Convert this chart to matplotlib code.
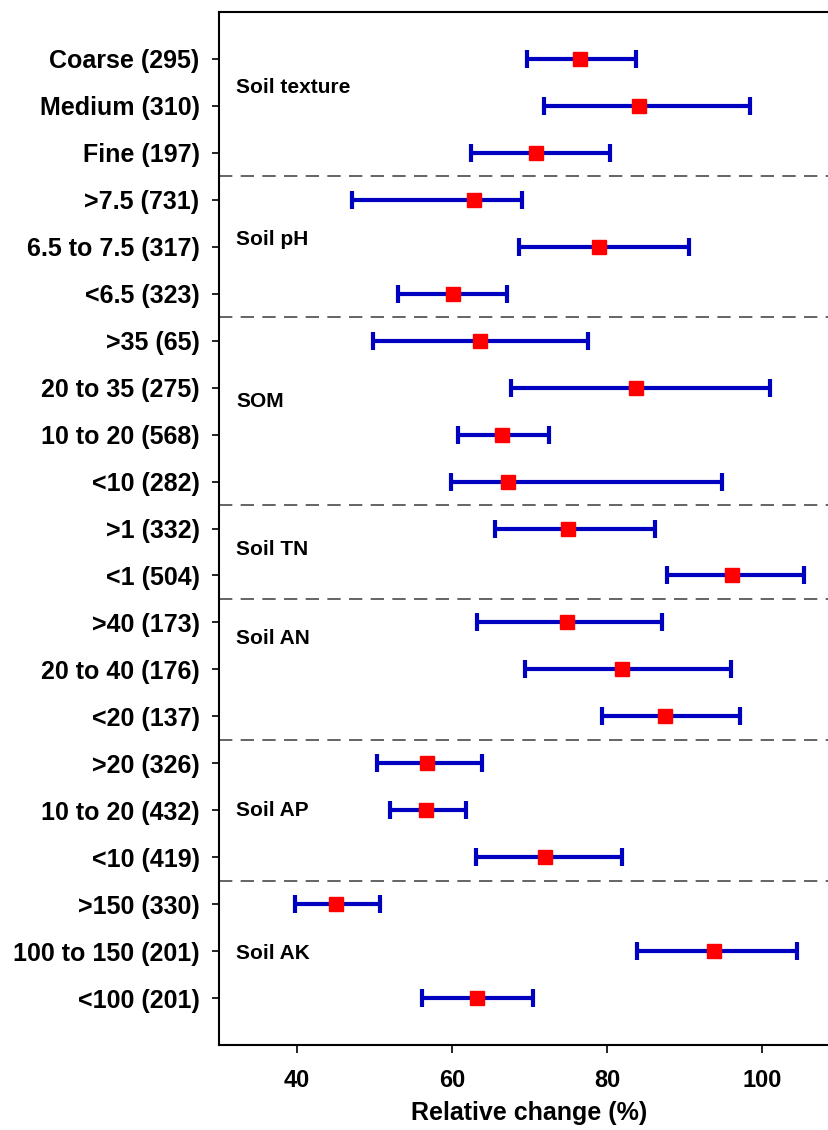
import matplotlib
matplotlib.use("Agg")
import matplotlib.pyplot as plt

plt.rcParams['font.family'] = ['Liberation Sans', 'DejaVu Sans']

labels = ["Coarse (295)", "Medium (310)", "Fine (197)",
          ">7.5 (731)", "6.5 to 7.5 (317)", "<6.5 (323)",
          ">35 (65)", "20 to 35 (275)", "10 to 20 (568)", "<10 (282)",
          ">1 (332)", "<1 (504)",
          ">40 (173)", "20 to 40 (176)", "<20 (137)",
          ">20 (326)", "10 to 20 (432)", "<10 (419)",
          ">150 (330)", "100 to 150 (201)", "<100 (201)"]
means = [76.5, 84.1, 70.9,
         62.9, 79.0, 60.1,
         63.6, 83.7, 66.4, 67.2,
         74.9, 96.1,
         74.8, 81.9, 87.5,
         56.8, 56.7, 72.0,
         45.1, 93.8, 63.2]
lower = [69.7, 71.9, 62.4,
         47.1, 68.7, 53.0,
         49.8, 67.6, 60.8, 59.9,
         65.5, 87.7,
         63.3, 69.4, 79.3,
         50.3, 52.0, 63.1,
         39.8, 83.8, 56.1]
upper = [83.7, 98.4, 80.4,
         69.0, 90.5, 67.1,
         77.6, 101.0, 72.5, 94.8,
         86.2, 105.4,
         87.1, 96.0, 97.1,
         63.9, 61.8, 81.9,
         50.7, 104.4, 70.5]
groups = ["Soil texture", "Soil pH", "SOM", "Soil TN", "Soil AN", "Soil AP", "Soil AK"]
group_sizes = [3, 3, 4, 2, 3, 3, 3]
group_label_pos = [1.6, 4.85, 8.3, 11.45, 13.35, 17.0, 20.05]
xticks = [40, 60, 80, 100]

fig = plt.figure(figsize=(8.29, 11.30), dpi=100)
ax = fig.add_axes([219/829, 85/1130, 621/829, 1033/1130])

ypos = list(range(1, len(labels) + 1))
xerr = [[m - l for m, l in zip(means, lower)], [u - m for m, u in zip(means, upper)]]
ax.errorbar(means, ypos, xerr=xerr, fmt='none', ecolor='#0000C0',
            elinewidth=3.0, capsize=6.5, capthick=3.0, zorder=2)
ax.plot(means, ypos, linestyle='none', marker='s', markersize=10,
        color='#FF0000', zorder=3)

# separators
cum = 0
for gs in group_sizes[:-1]:
    cum += gs
    ax.axhline(cum + 0.5, color='#4a4a4a', linestyle=(0, (8, 5)), linewidth=1.2, zorder=1)

for g, p in zip(groups, group_label_pos):
    ax.text(32.2, p, g, fontsize=15, fontweight='bold', va='center', ha='left')

ax.set_xlim(30, 110)
ax.set_ylim(22, 0)
ax.set_yticks(ypos)
ax.set_yticklabels(labels, fontsize=18, fontweight='bold')
ax.set_xticks(xticks)
ax.set_xticklabels([str(t) for t in xticks], fontsize=17, fontweight='bold')
ax.tick_params(axis='y', length=5, width=1.2, pad=9)
ax.tick_params(axis='x', length=6, width=1.2, pad=11)
ax.set_xlabel("Relative change (%)", fontsize=18, fontweight='bold', labelpad=7)
for s in ax.spines.values():
    s.set_linewidth(1.5)

fig.savefig("out.png", dpi=100)
